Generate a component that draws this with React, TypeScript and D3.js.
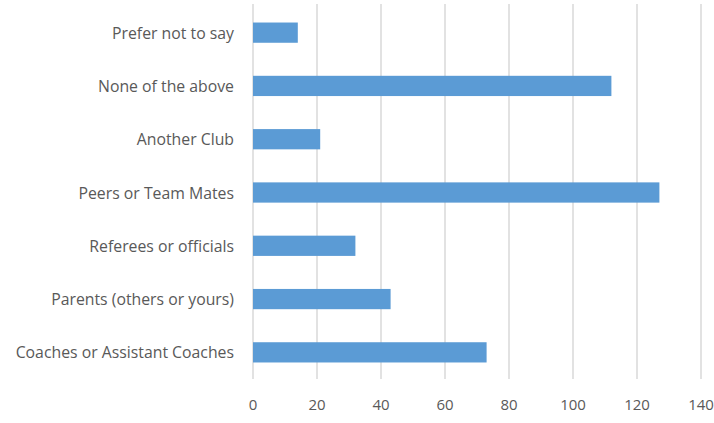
import React from "react";
import * as d3 from "d3";

const categories = [
  "Prefer not to say",
  "None of the above",
  "Another Club",
  "Peers or Team Mates",
  "Referees or officials",
  "Parents (others or yours)",
  "Coaches or Assistant Coaches",
];
const values = [14, 112, 21, 127, 32, 43, 73];
const xTicks = [0, 20, 40, 60, 80, 100, 120, 140];

const W = 714;
const H = 423;
const margin = { left: 253, right: 13, top: 6, bottom: 44 };

export default function App() {
  const x = d3.scaleLinear().domain([0, 140]).range([margin.left, W - margin.right]);
  const y = d3
    .scaleBand<string>()
    .domain(categories)
    .range([margin.top, H - margin.bottom])
    .paddingInner(0.62)
    .paddingOuter(0.31);
  const font = "'Open Sans', 'Liberation Sans', sans-serif";
  return (
    <svg
      width={W}
      height={H}
      style={{ position: "absolute", left: 0, top: 0, background: "#fff" }}
    >
      {xTicks.map((t) => (
        <line
          key={"g" + t}
          x1={x(t)}
          x2={x(t)}
          y1={margin.top - 2}
          y2={H - margin.bottom}
          stroke="#d9d9d9"
          strokeWidth={1.5}
        />
      ))}
      {categories.map((c, i) => (
        <rect
          key={c}
          x={x(0)}
          y={y(c)}
          width={x(values[i]) - x(0)}
          height={y.bandwidth()}
          fill="#5b9bd5"
        />
      ))}
      {categories.map((c) => (
        <text
          key={"l" + c}
          x={x(0) - 19}
          y={(y(c) as number) + y.bandwidth() / 2}
          textAnchor="end"
          dominantBaseline="central"
          fontFamily={font}
          fontSize={15.8}
          fill="#595959"
        >
          {c}
        </text>
      ))}
      {xTicks.map((t) => (
        <text
          key={"t" + t}
          x={x(t)}
          y={H - margin.bottom + 25}
          textAnchor="middle"
          dominantBaseline="central"
          fontFamily={font}
          fontSize={15}
          fill="#595959"
        >
          {t}
        </text>
      ))}
    </svg>
  );
}
